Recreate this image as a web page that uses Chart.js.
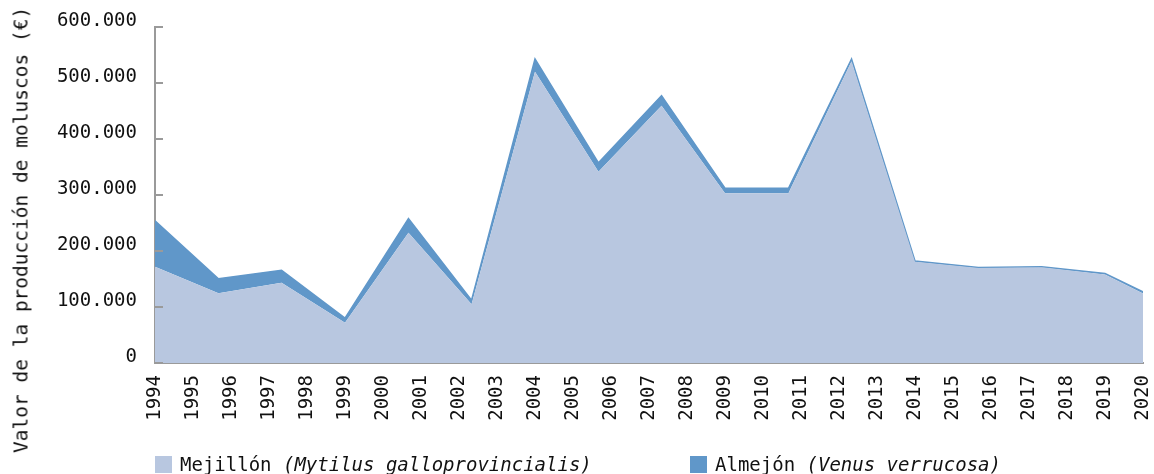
<!DOCTYPE html>
<html>
<head>
<meta charset="utf-8">
<script src="https://cdn.jsdelivr.net/npm/chart.js@4.4.1/dist/chart.umd.min.js"></script>
<style>
  body { margin: 0; background: #fff; font-family: "DejaVu Sans Mono", monospace; }
  #wrap { position: relative; width: 1154px; height: 474px; }
  #ytitle {
    position: absolute; left: 21px; top: 230px;
    transform: translate(-50%, -50%) rotate(-90deg);
    white-space: nowrap; font-size: 19.5px; color: #111;
  }
  .leg { position: absolute; top: 453px; font-size: 19px; color: #111; white-space: nowrap; }
  .leg span.box { display: inline-block; width: 17px; height: 17px; vertical-align: -2px; margin-right: 8px; }
  .leg i { font-style: italic; }
</style>
</head>
<body>
<div id="wrap">
  <canvas id="chart-1" width="1154" height="474"></canvas>
  <div id="ytitle">Valor de la producción de moluscos (€)</div>
  <div class="leg" style="left:155px"><span class="box" style="background:#b8c7e0"></span>Mejillón <i>(Mytilus galloprovincialis)</i></div>
  <div class="leg" style="left:690px"><span class="box" style="background:#6097c9"></span>Almejón <i>(Venus verrucosa)</i></div>
</div>
<script>
// x positions of the samples (years, they don't fall on whole years)
const years = [1994, 1995.67, 1997.33, 1999, 2000.67, 2002.33, 2004, 2005.67, 2007.33,
  2009, 2010.67, 2012.33, 2014, 2015.67, 2017.33, 2019, 2020];
const mejillon = [172000, 124500, 143500, 72000, 232500, 105000, 520000, 341500, 459500,
  303000, 303000, 539000, 181000, 169500, 171000, 158000, 124000];
const almejon = [82000, 26000, 22000, 8000, 25500, 7000, 23000, 16000, 18000,
  9000, 9000, 4000, 1000, 1000, 1000, 2000, 3000];
const yTicks = [0, 100000, 200000, 300000, 400000, 500000, 600000];

const pts = (vals) => vals.map((v, i) => ({x: years[i], y: v}));
const fmt = (v) => String(v).replace(/\B(?=(\d{3})+(?!\d))/g, '.');

// small tick marks pointing into the plot on the y axis
const innerTicks = {
  id: 'innerTicks',
  afterDraw(chart) {
    const y = chart.scales.y, ctx = chart.ctx;
    ctx.save();
    ctx.strokeStyle = '#9a9a9a';
    ctx.lineWidth = 2;
    yTicks.forEach(t => {
      const py = Math.round(y.getPixelForValue(t));
      ctx.beginPath();
      ctx.moveTo(y.right, py);
      ctx.lineTo(y.right + 8, py);
      ctx.stroke();
    });
    ctx.restore();
  }
};

const data1 = {
  datasets: [{
    label: 'Mejillón (Mytilus galloprovincialis)',
    data: pts(mejillon),
    backgroundColor: '#b8c7e0',
    borderColor: '#b8c7e0',
    borderWidth: 0,
    fill: 'origin',
    pointRadius: 0,
    tension: 0
  }, {
    label: 'Almejón (Venus verrucosa)',
    data: pts(almejon),
    backgroundColor: '#6097c9',
    borderColor: '#6097c9',
    borderWidth: 1.5,
    fill: '-1',
    pointRadius: 0,
    tension: 0
  }]
};

const config1 = {
  type: 'line',
  data: data1,
  options: {
    responsive: false,
    animation: false,
    events: [],
    layout: { padding: { left: 0, right: 11, top: 27, bottom: 0 } },
    plugins: { legend: { display: false }, tooltip: { enabled: false } },
    scales: {
      x: {
        type: 'linear',
        min: 1994,
        max: 2020,
        grid: { display: false, drawTicks: false },
        border: { color: '#9a9a9a', width: 2 },
        ticks: {
          stepSize: 1,
          autoSkip: false,
          minRotation: 90,
          maxRotation: 90,
          padding: 12,
          color: '#111',
          font: { family: 'DejaVu Sans Mono', size: 19 },
          callback: (v) => String(v)
        },
        afterFit: (s) => { s.height = 474 - 363; s.paddingLeft = 0; s.paddingRight = 0; }
      },
      y: {
        stacked: true,
        min: 0,
        max: 600000,
        grid: { display: false, drawTicks: false },
        border: { color: '#9a9a9a', width: 2 },
        ticks: {
          stepSize: 100000,
          padding: 18,
          labelOffset: -6,
          color: '#111',
          font: { family: 'DejaVu Sans Mono', size: 19 },
          callback: (v) => fmt(v)
        },
        afterFit: (s) => { s.width = 155; s.paddingTop = 0; s.paddingBottom = 0; }
      }
    }
  },
  plugins: [innerTicks]
};

const ctx1 = document.getElementById('chart-1');
const chart1 = new Chart(ctx1, config1);
</script>
</body>
</html>
